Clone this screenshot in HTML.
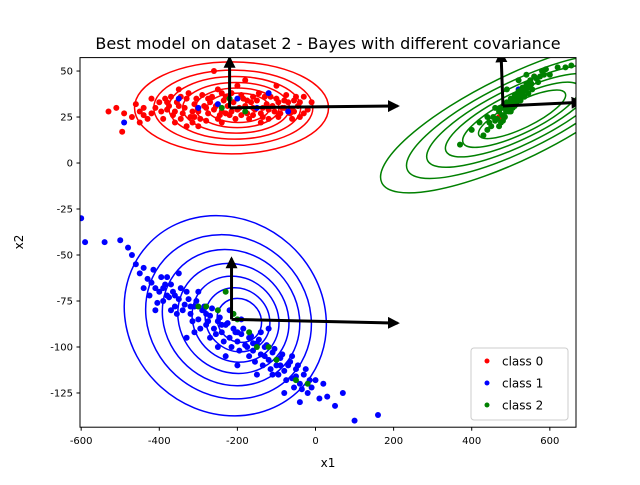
<!DOCTYPE html>
<html><head><meta charset="utf-8"><style>
body{margin:0;background:#fff;}
svg text{font-family:"DejaVu Sans","Liberation Sans",sans-serif;}
</style></head><body>
<svg id="chart" width="640" height="480" viewBox="0 0 640 480" xmlns="http://www.w3.org/2000/svg">
<rect width="640" height="480" fill="#fff"/>
<defs><clipPath id="clip"><rect x="80" y="57.6" width="496" height="369.6"/></clipPath></defs>
<g id="plot" clip-path="url(#clip)"></g>
<rect x="80" y="57.6" width="496" height="369.6" fill="none" stroke="#000" stroke-width="1"/>
<g id="axes"></g>
<text x="328" y="49" font-size="16" text-anchor="middle">Best model on dataset 2 - Bayes with different covariance</text>
<text x="328" y="467" font-size="12" text-anchor="middle">x1</text>
<text x="23" y="242" font-size="12" text-anchor="middle" transform="rotate(-90 23 242)">x2</text>
<g>
<rect x="471" y="348" width="97" height="72" rx="3" fill="#fff" fill-opacity="0.85" stroke="#ccc"/>
<circle cx="487" cy="361" r="2.5" fill="red"/><text x="502" y="365.5" font-size="12">class 0</text>
<circle cx="487" cy="383" r="2.5" fill="blue"/><text x="502" y="387.5" font-size="12">class 1</text>
<circle cx="487" cy="405" r="2.5" fill="green"/><text x="502" y="409.5" font-size="12">class 2</text>
</g>
</svg>
<script>
const xTicks=[-600,-400,-200,0,200,400,600];
const yTicks=[50,25,0,-25,-50,-75,-100,-125];
const class0=[[-530,28],[-510,30],[-490,27],[-495,17],[-470,25],[-450,22],[-440,30],[-420,27],[-400,33],[-390,24],[-380,29],[-370,36],[-360,22],[-350,31],[-340,27],[-330,35],[-320,25],[-310,32],[-300,28],[-290,37],[-280,23],[-270,33],[-260,29],[-250,40],[-245,26],[-235,34],[-225,31],[-215,38],[-205,24],[-195,30],[-185,35],[-175,27],[-165,33],[-155,29],[-145,38],[-135,25],[-125,32],[-115,36],[-105,28],[-95,33],[-85,30],[-75,37],[-65,27],[-55,34],[-45,31],[-30,36],[-20,29],[-260,50],[-180,45],[-100,42],[-420,35],[-330,20],[-240,22],[-140,22],[-60,24],[-350,40],[-200,42],[-300,20],[-380,33],[-280,30],[-230,27],[-160,36],[-120,29],[-80,34],[-450,28],[-310,25],[-190,26],[-40,25],
[-430,24],[-410,30],[-395,28],[-385,35],[-365,26],[-355,33],[-345,24],[-335,30],[-325,38],[-315,28],[-305,35],[-295,24],[-285,31],[-275,27],[-265,36],[-255,31],[-240,28],[-230,36],[-220,26],[-210,33],[-200,29],[-190,37],[-180,31],[-170,24],[-160,30],[-150,34],[-140,27],[-130,36],[-120,24],[-110,31],[-100,35],[-90,27],[-80,30],[-70,33],[-60,29],[-50,36],[-40,33],[-30,27],[-10,33],[-375,31],[-345,36],[-315,22],[-275,35],[-250,24],[-215,28],[-175,34],[-135,30],[-95,25],[-55,28],[-360,28],[-240,38],[-160,26],[-440,26],[-460,32],[560,47],[470,25]];
const class1=[[-600,-30],[-590,-43],[-540,-43],[-500,-42],[-480,-46],[-470,-50],[-460,-55],[-450,-60],[-440,-57],[-430,-63],[-420,-65],[-410,-68],[-400,-70],[-395,-62],[-390,-75],[-380,-72],[-370,-66],[-360,-78],[-350,-74],[-340,-80],[-330,-70],[-320,-82],[-310,-78],[-300,-85],[-290,-80],[-280,-88],[-270,-83],[-260,-90],[-250,-86],[-240,-92],[-230,-88],[-220,-95],[-210,-90],[-200,-97],[-190,-93],[-180,-99],[-170,-95],[-160,-102],[-150,-98],[-140,-104],[-130,-100],[-120,-107],[-110,-103],[-100,-110],[-90,-106],[-80,-113],[-70,-110],[-60,-117],[-50,-112],[-40,-120],[-30,-115],[-20,-125],[0,-118],[10,-128],[30,-127],[50,-132],[70,-125],[100,-140],[160,-137],[-410,-80],[-330,-95],[-250,-100],[-150,-115],[-300,-70],[-220,-80],[-120,-90],[-80,-125],[-350,-60],[-200,-110],[-40,-130],[-370,-80],[-270,-95],[-170,-105],[-110,-115],[-60,-105],
[-425,-72],[-415,-58],[-405,-76],[-385,-66],[-375,-73],[-365,-70],[-355,-82],[-345,-68],[-335,-77],[-325,-74],[-315,-86],[-305,-75],[-295,-90],[-285,-78],[-275,-86],[-265,-79],[-255,-93],[-245,-84],[-235,-97],[-225,-87],[-215,-100],[-205,-92],[-195,-102],[-185,-90],[-175,-100],[-165,-94],[-155,-108],[-145,-96],[-135,-110],[-125,-99],[-115,-112],[-105,-101],[-95,-115],[-85,-104],[-75,-118],[-65,-108],[-55,-122],[-45,-110],[-35,-123],[-25,-112],[-10,-122],[-390,-68],[-360,-72],[-320,-78],[-280,-82],[-240,-88],[-200,-92],[-160,-98],[-130,-105],[-90,-110],[-50,-116],[-15,-118],[20,-120],[-310,-92],[-230,-105],[-140,-92],[-190,-85],[-440,-68],[-380,-62],
[-250,32],[-200,35],[-150,30],[-300,30],[-120,38],[-70,28],[-490,22],[-350,35],[520,40]];
const class2=[[370,10],[400,18],[420,22],[430,15],[440,25],[450,20],[460,23],[470,28],[475,22],[480,30],[485,25],[490,33],[495,28],[500,35],[505,30],[510,37],[515,32],[520,39],[525,34],[530,41],[535,36],[540,43],[545,38],[550,45],[555,40],[560,47],[570,44],[580,50],[600,48],[620,52],[640,52],[655,53],[440,18],[460,30],[520,45],[540,48],[490,40],
[445,22],[455,25],[465,24],[472,30],[478,26],[483,32],[488,28],[493,30],[498,32],[503,33],[508,34],[513,35],[518,36],[523,37],[528,38],[533,39],[538,40],[543,41],[548,42],[553,43],[565,46],[575,47],[585,48],[590,51],[500,28],[510,31],[530,36],[470,20],[480,23],
[-250,-80],[-200,-85],[-170,-92],[-230,-70],[-150,-100],[-100,-107],[-50,-118],[-20,-120],[-300,-78],[-220,35],[-180,28],[-240,30],[-280,-78],[-210,-82],[-120,-100]];
const ringScales=[1,0.82,0.68,0.55,0.43,0.32,0.22];
const X0=-603,X1=667,Y0=-143.6,Y1=57.3;
function sx(v){return 80+(v-X0)/(X1-X0)*496;}
function sy(v){return 427.2-(v-Y0)/(Y1-Y0)*369.6;}
const NS="http://www.w3.org/2000/svg";
const plot=document.getElementById('plot'),axes=document.getElementById('axes');
function mk(tag,attrs,parent){const e=document.createElementNS(NS,tag);for(const k in attrs)e.setAttribute(k,attrs[k]);parent.appendChild(e);return e;}
const ells=[[-215,30,97,46,0,'red'],[-231,-83,105,96,42,'blue'],[515,25,150,42,-26,'green']];
const shifts=[[10,0],[18,6],[8,-4]];
ells.forEach((p,i)=>{ringScales.forEach((s,j)=>{
 if(i!==1&&j===6)return;
 const cx=sx(p[0])+(1-s)*shifts[i][0], cy=sy(p[1])+(1-s)*shifts[i][1];
 const e=mk('ellipse',{cx:cx,cy:cy,rx:p[2]*s,ry:p[3]*s,transform:`rotate(${p[4]} ${cx} ${cy})`,fill:'none',stroke:p[5],'stroke-width':1.5},plot);
 
 
});});
[[class0,'red'],[class1,'blue'],[class2,'green']].forEach(([arr,c])=>{arr.forEach(d=>{
 const el=mk('circle',{cx:sx(d[0]),cy:sy(d[1]),r:3,fill:c},plot);
 
 
});});
const arrows=[[-220,30,-220,57],[-220,30,210,31],[-215,-85,-215,-52],[-215,-85,210,-87],[480,31,475,60],[480,31,680,33]];
mk('defs',{},plot).innerHTML='<marker id="ah" viewBox="0 0 10 10" refX="8" refY="5" markerWidth="4" markerHeight="4" orient="auto"><path d="M0,0L10,5L0,10z" fill="#000"/></marker>';
arrows.forEach(a=>{
 const l=mk('line',{x1:sx(a[0]),y1:sy(a[1]),x2:sx(a[2]),y2:sy(a[3]),stroke:'#000','stroke-width':3,'marker-end':'url(#ah)'},plot);
 
 
});
xTicks.forEach(t=>{const x=sx(t);mk('line',{x1:x,y1:427.2,x2:x,y2:430.7,stroke:'#000'},axes);
 const tx=mk('text',{x:x,y:444,'font-size':10,'text-anchor':'middle'},axes);tx.textContent=t;
 
 });
yTicks.forEach(t=>{const y=sy(t);mk('line',{x1:76.5,y1:y,x2:80,y2:y,stroke:'#000'},axes);
 const tx=mk('text',{x:73,y:y+3.5,'font-size':10,'text-anchor':'end'},axes);tx.textContent=t;
 
 });
</script>
</body></html>
